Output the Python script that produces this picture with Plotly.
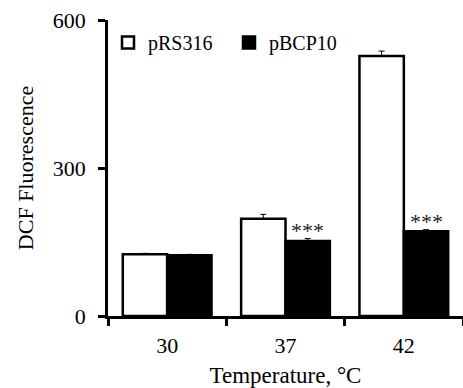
import plotly.graph_objects as go

categories = ["30", "37", "42"]
prs316 = [125, 197, 527]
prs316_err = [2, 9, 10]
pbcp10 = [123, 152, 172]
pbcp10_err = [2, 5, 3]
sig_labels = ["", "***", "***"]

FONT = "Times New Roman, Liberation Serif, serif"

fig = go.Figure()
fig.add_trace(go.Bar(
    x=categories, y=prs316, name="pRS316",
    marker=dict(color="white", line=dict(color="black", width=2.5)),
    error_y=dict(type="data", array=prs316_err, arrayminus=[0]*3, symmetric=False,
                 color="black", thickness=1, width=3),
))
fig.add_trace(go.Bar(
    x=categories, y=pbcp10, name="pBCP10",
    marker=dict(color="black", line=dict(color="black", width=2.5)),
    error_y=dict(type="data", array=pbcp10_err, arrayminus=[0]*3, symmetric=False,
                 color="black", thickness=1, width=3),
))

bargap = 0.25
offset = (1 - bargap) / 4
for i, lab in enumerate(sig_labels):
    if lab:
        fig.add_annotation(x=i + offset, y=pbcp10[i] + pbcp10_err[i], text=lab,
                           showarrow=False, yanchor="bottom", yshift=-6,
                           font=dict(family=FONT, size=22, color="#222"))

fig.update_layout(
    width=463, height=388,
    margin=dict(l=108, r=0, t=20, b=72),
    plot_bgcolor="white", paper_bgcolor="white",
    barmode="group", bargap=bargap, bargroupgap=0,
    font=dict(family=FONT, size=22, color="black"),
    showlegend=True,
    legend=dict(orientation="h", x=0.0, y=0.99, xanchor="left", yanchor="top",
                font=dict(family=FONT, size=20, color="black"),
                bgcolor="rgba(0,0,0,0)", itemwidth=30, tracegroupgap=0,
                entrywidth=76, entrywidthmode="pixels"),
    xaxis=dict(
        type="category", showline=True, linecolor="black", linewidth=2.5,
        ticks="outside", tickson="boundaries", ticklen=7, tickwidth=2.5, tickcolor="black",
        range=[-0.5, 2.5], showgrid=False, zeroline=False, ticklabelstandoff=8,
        title=dict(text="Temperature, °C", font=dict(family=FONT, size=23), standoff=14),
        tickfont=dict(family=FONT, size=22),
    ),
    yaxis=dict(
        range=[0, 600], tickvals=[0, 300, 600], showline=True, linecolor="black", linewidth=2.5,
        ticks="outside", ticklen=7, tickwidth=2.5, tickcolor="black",
        showgrid=False, zeroline=False, ticklabelstandoff=8,
        title=dict(text="DCF Fluorescence", font=dict(family=FONT, size=22), standoff=14),
        tickfont=dict(family=FONT, size=22),
    ),
)

fig.write_html("out.html", config={"displayModeBar": False},
               post_script="document.body.style.margin='0';")
